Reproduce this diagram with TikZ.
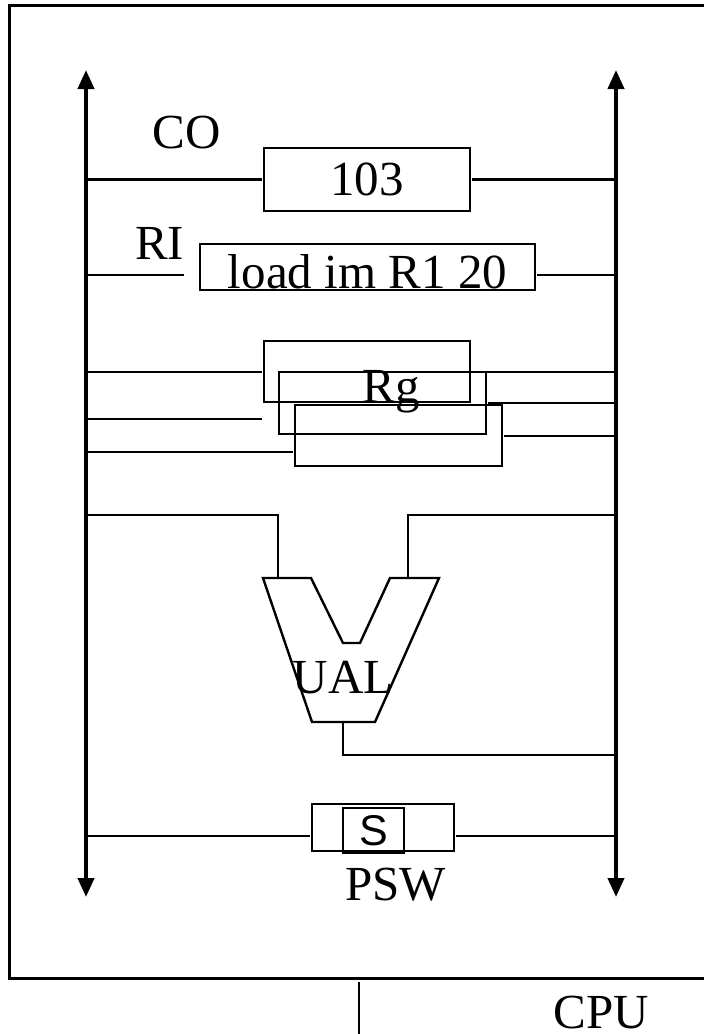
\documentclass[tikz,border=0pt]{standalone}
\usepackage{fontspec}
\setmainfont{Liberation Serif}
\newfontfamily\flagfamily{Liberation Sans}
\usetikzlibrary{
    arrows.meta,
    positioning,
    calc
}
\newcommand{\regfont}{\fontsize{49}{52}\selectfont}
\newcommand{\flagfont}{\flagfamily\fontsize{43}{46}\selectfont}

\begin{document}
\begin{tikzpicture}[x=1pt, y=-1pt,
        reg/.style={draw, line width=2.2pt, inner sep=0pt, outer sep=2pt, font=\regfont},
        wire/.style={line width=2.4pt},
        bus/.style={line width=4pt, {Triangle[length=19pt,width=16pt]}-{Triangle[length=19pt,width=16pt]}},
        lbl/.style={font=\regfont, inner sep=0pt},
    ]
        \useasboundingbox (0,0) rectangle (704,1034);

        % CPU frame
        \draw[line width=3pt] (712,5) -- (9,5) -- (9,978) -- (712,978);
        \draw[line width=1.5pt] (359,982) -- (359,1040);
        \node[lbl, anchor=base] (cpu) at (601,1028) {CPU};

        % Buses
        \coordinate (lt) at (86,70);
        \coordinate (lb) at (86,897);
        \coordinate (rt) at (616,70);
        \coordinate (rb) at (616,897);
        \draw[bus] (lb) -- (lt);
        \draw[bus] (rb) -- (rt);

        % CO
        \node[reg, minimum width=206, minimum height=63] (co) at (367,179.5) {103};
        \node[lbl, anchor=base] (colbl) at (186.5,148) {CO};
        \draw[wire] (co.west) -- (co.west -| lt);
        \draw[wire] (co.east) -- (co.east -| rt);

        % RI
        \node[reg, minimum width=335, minimum height=46, text height=42pt, text depth=0pt] (ri) at (367.5,267) {load im R1 20};
        \node[lbl, anchor=base] (rilbl) at (159.5,259) {RI};
        \draw[wire] (lt |- 0,275) -- (rilbl.south east |- 0,275);
        \draw[wire] (ri.east |- 0,275) -- (rt |- 0,275);

        % Register file
        \node[reg, minimum width=206, minimum height=61] (rg1) at (367,371.5) {};
        \node[reg, minimum width=207, minimum height=62] (rg2) at (382.5,403) {};
        \node[reg, minimum width=207, minimum height=61] (rg3) at (398.5,435.5) {};
        \node[lbl, anchor=base] (rglbl) at (391,402) {Rg};
        \draw[wire] (rg1.west |- 0,372) -- (lt |- 0,372);
        \draw[wire] (rg1.west |- 0,419) -- (lt |- 0,419);
        \draw[wire] (rg3.west |- 0,452) -- (lt |- 0,452);
        \draw[wire] (rg1.east |- 0,372) -- (rt |- 0,372);
        \draw[wire] (rg2.east |- 0,403) -- (rt |- 0,403);
        \draw[wire] (rg3.east |- 0,436) -- (rt |- 0,436);

        % UAL
        \draw[wire, line join=miter] (263,578) -- (311,578) -- (343,643) -- (360,643)
            -- (390,578) -- (439,578) -- (375,722) -- (312,722) -- cycle;
        \node[lbl, anchor=base] (ual) at (343,693) {UAL};
        \coordinate (ina) at (278,578);
        \coordinate (inb) at (408,578);
        \coordinate (out) at (343,722);
        \draw[wire] (lt |- 0,515) -| (ina);
        \draw[wire] (rt |- 0,515) -| (inb);
        \draw[wire] (out) |- (rt |- 0,755);

        % PSW
        \node[reg, minimum width=142, minimum height=47] (psw) at (383,827.5) {};
        \node[reg, minimum width=61, minimum height=45, font=\flagfont] (flag) at (373.5,830.5) {S};
        \node[lbl, anchor=base] (pswlbl) at (395.5,900) {PSW};
        \draw[wire] (psw.west |- 0,836) -- (lt |- 0,836);
        \draw[wire] (psw.east |- 0,836) -- (rt |- 0,836);
    \end{tikzpicture}
\end{document}
